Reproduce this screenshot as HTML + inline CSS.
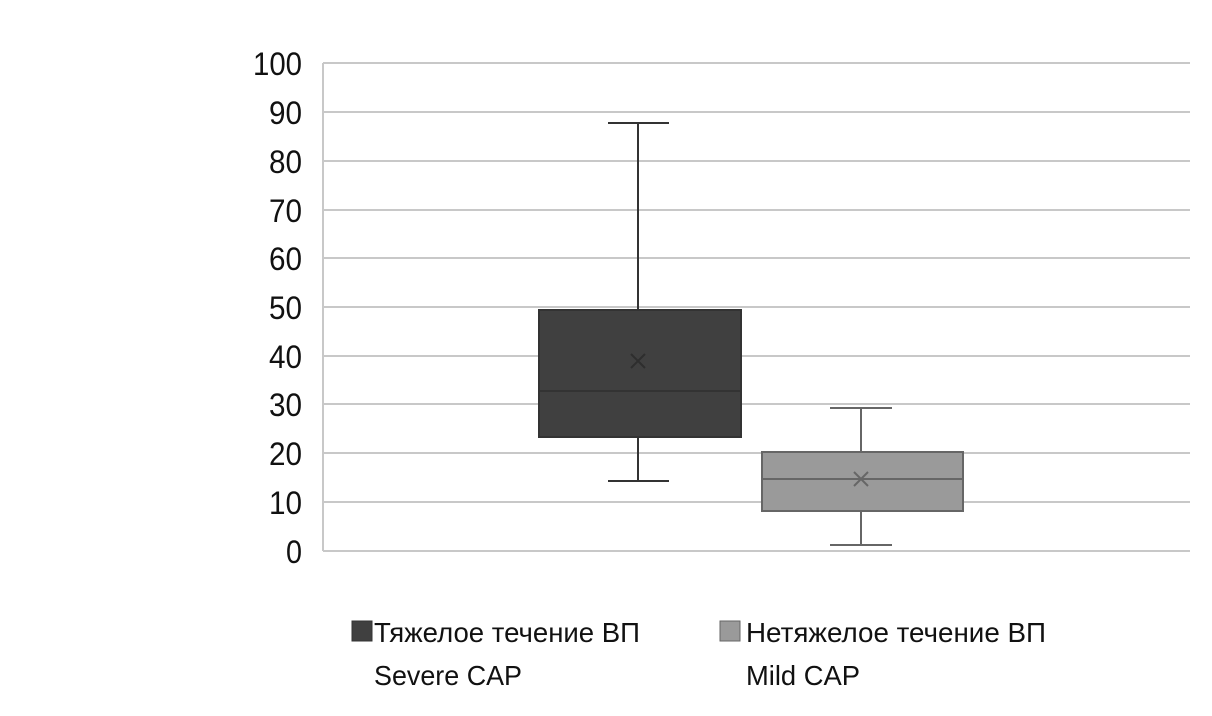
<!DOCTYPE html>
<html><head><meta charset="utf-8"><style>html,body{margin:0;padding:0;background:#fff}svg{display:block}</style></head><body>
<svg width="1212" height="716" xmlns="http://www.w3.org/2000/svg" font-family="'Liberation Sans', sans-serif">
<g stroke="#c8c8c8" stroke-width="2">
<line x1="323" y1="63" x2="1190" y2="63"/><line x1="323" y1="112" x2="1190" y2="112"/><line x1="323" y1="161" x2="1190" y2="161"/><line x1="323" y1="210" x2="1190" y2="210"/><line x1="323" y1="258" x2="1190" y2="258"/><line x1="323" y1="307" x2="1190" y2="307"/><line x1="323" y1="356" x2="1190" y2="356"/><line x1="323" y1="404" x2="1190" y2="404"/><line x1="323" y1="453" x2="1190" y2="453"/><line x1="323" y1="502" x2="1190" y2="502"/><line x1="323" y1="551" x2="1190" y2="551"/>
<line x1="323" y1="63" x2="323" y2="551"/>
</g>
<g font-size="32" fill="#111" text-anchor="end" lengthAdjust="spacingAndGlyphs">
<text x="302" y="75" textLength="49" lengthAdjust="spacingAndGlyphs">100</text>
<text x="302" y="124" textLength="33" lengthAdjust="spacingAndGlyphs">90</text>
<text x="302" y="173" textLength="33" lengthAdjust="spacingAndGlyphs">80</text>
<text x="302" y="222" textLength="33" lengthAdjust="spacingAndGlyphs">70</text>
<text x="302" y="270" textLength="33" lengthAdjust="spacingAndGlyphs">60</text>
<text x="302" y="319" textLength="33" lengthAdjust="spacingAndGlyphs">50</text>
<text x="302" y="368" textLength="33" lengthAdjust="spacingAndGlyphs">40</text>
<text x="302" y="416" textLength="33" lengthAdjust="spacingAndGlyphs">30</text>
<text x="302" y="465" textLength="33" lengthAdjust="spacingAndGlyphs">20</text>
<text x="302" y="514" textLength="33" lengthAdjust="spacingAndGlyphs">10</text>
<text x="302" y="563" textLength="16" lengthAdjust="spacingAndGlyphs">0</text>
</g>
<g stroke="#333" stroke-width="2">
<line x1="638" y1="123" x2="638" y2="310"/><line x1="608" y1="123" x2="669" y2="123"/>
<line x1="638" y1="437" x2="638" y2="481"/><line x1="608" y1="481" x2="669" y2="481"/>
<rect x="539" y="310" width="202" height="127" fill="#404040"/>
<line x1="539" y1="391" x2="741" y2="391"/>
<path d="M631 354 L645 368 M645 354 L631 368" stroke="#2e2e2e"/>
</g>
<g stroke="#666" stroke-width="2">
<line x1="861" y1="408" x2="861" y2="452"/><line x1="830" y1="408" x2="892" y2="408"/>
<line x1="861" y1="511" x2="861" y2="545"/><line x1="830" y1="545" x2="892" y2="545"/>
<rect x="762" y="452" width="201" height="59" fill="#9a9a9a"/>
<line x1="762" y1="479" x2="963" y2="479"/>
<path d="M854 472 L868 486 M868 472 L854 486"/>
</g>
<rect x="352" y="621" width="20" height="20" fill="#404040" stroke="#333"/>
<rect x="720" y="621" width="20" height="20" fill="#9a9a9a" stroke="#666"/>
<g font-size="28" fill="#111">
<text x="374" y="642" textLength="266" lengthAdjust="spacingAndGlyphs">Тяжелое течение ВП</text>
<text x="374" y="685" textLength="148" lengthAdjust="spacingAndGlyphs">Severe CAP</text>
<text x="746" y="642" textLength="300" lengthAdjust="spacingAndGlyphs">Нетяжелое течение ВП</text>
<text x="746" y="685" textLength="114" lengthAdjust="spacingAndGlyphs">Mild CAP</text>
</g>
</svg>
</body></html>
